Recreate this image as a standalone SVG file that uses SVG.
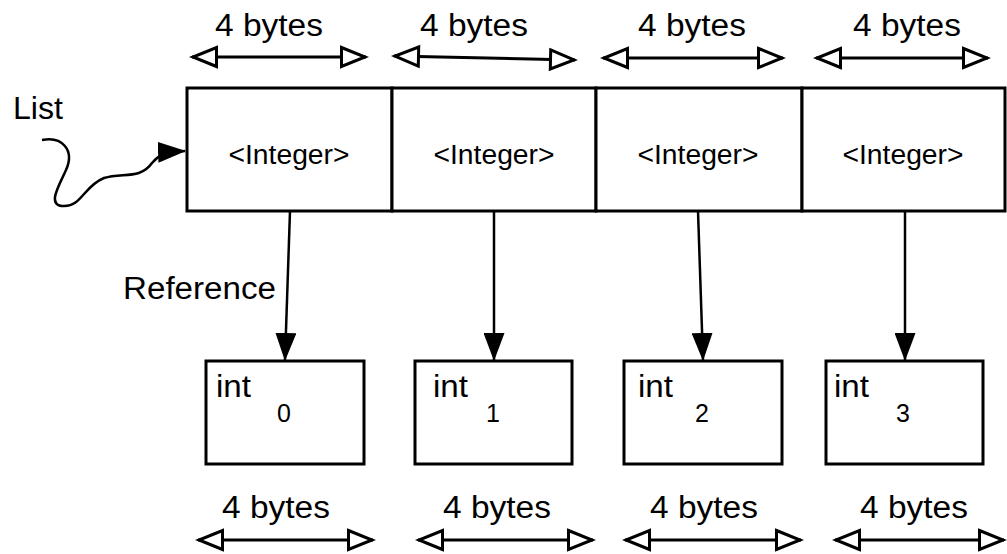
<svg xmlns="http://www.w3.org/2000/svg" width="1007" height="554" viewBox="0 0 1007 554">
  <style>
    .box { fill: #ffffff; stroke: #000000; stroke-width: 3; }
    .lbl { font-family: "Liberation Sans", Arial, Helvetica, sans-serif; font-size: 31px; fill: #000000; }
    .cell { font-family: "Liberation Sans", Arial, Helvetica, sans-serif; font-size: 27px; fill: #000000; text-anchor: middle; }
    .idx { font-family: "Liberation Sans", Arial, Helvetica, sans-serif; font-size: 25px; fill: #000000; text-anchor: middle; }
    .ref { fill: none; stroke: #000000; stroke-width: 2.5; marker-end: url(#solid); }
    .span { fill: none; stroke: #000000; stroke-width: 3; marker-start: url(#open); marker-end: url(#open); }
  </style>
  <defs>
    <marker id="solid" markerUnits="userSpaceOnUse" viewBox="0 0 28 21" refX="27" refY="10.5" markerWidth="28" markerHeight="21" orient="auto">
      <path d="M0,0 L28,10.5 L0,21 Z" fill="#000000"/>
    </marker>
    <marker id="open" markerUnits="userSpaceOnUse" viewBox="0 0 28 22" refX="26" refY="11" markerWidth="28" markerHeight="22" orient="auto-start-reverse" overflow="visible">
      <path d="M1.5,1.5 L25,11 L1.5,20.5 Z" fill="#ffffff" stroke="#000000" stroke-width="3" stroke-linejoin="miter"/>
    </marker>
  </defs>

  <rect width="1007" height="554" fill="#ffffff"/>

  <!-- list label and its pointer -->
  <g id="list-label">
    <text class="lbl" x="13" y="119" textLength="50" lengthAdjust="spacingAndGlyphs">List</text>
  </g>

  <!-- list cells -->
  <g id="cell-0">
    <rect class="box" x="187" y="88" width="205" height="123"/>
    <text class="cell" x="289" y="164" textLength="121" lengthAdjust="spacingAndGlyphs">&lt;Integer&gt;</text>
  </g>
  <g id="cell-1">
    <rect class="box" x="392" y="88" width="204" height="123"/>
    <text class="cell" x="494" y="164" textLength="121" lengthAdjust="spacingAndGlyphs">&lt;Integer&gt;</text>
  </g>
  <g id="cell-2">
    <rect class="box" x="596" y="88" width="206" height="123"/>
    <text class="cell" x="698" y="164" textLength="121" lengthAdjust="spacingAndGlyphs">&lt;Integer&gt;</text>
  </g>
  <g id="cell-3">
    <rect class="box" x="802" y="88" width="203" height="123"/>
    <text class="cell" x="903" y="164" textLength="121" lengthAdjust="spacingAndGlyphs">&lt;Integer&gt;</text>
  </g>

  <!-- boxed int values -->
  <g id="int-0">
    <rect class="box" x="206" y="361" width="158" height="103"/>
    <text class="lbl" x="216" y="397" textLength="35" lengthAdjust="spacingAndGlyphs">int</text>
    <text class="idx" x="284" y="422">0</text>
  </g>
  <g id="int-1">
    <rect class="box" x="415" y="361" width="157" height="103"/>
    <text class="lbl" x="433" y="397" textLength="35" lengthAdjust="spacingAndGlyphs">int</text>
    <text class="idx" x="493" y="422">1</text>
  </g>
  <g id="int-2">
    <rect class="box" x="624" y="361" width="158" height="103"/>
    <text class="lbl" x="638" y="397" textLength="35" lengthAdjust="spacingAndGlyphs">int</text>
    <text class="idx" x="702" y="422">2</text>
  </g>
  <g id="int-3">
    <rect class="box" x="826" y="361" width="157" height="103"/>
    <text class="lbl" x="834" y="397" textLength="35" lengthAdjust="spacingAndGlyphs">int</text>
    <text class="idx" x="903" y="422">3</text>
  </g>

  <!-- size annotations -->
  <g id="size-top">
    <text class="lbl" x="215" y="36" textLength="108" lengthAdjust="spacingAndGlyphs">4 bytes</text>
    <text class="lbl" x="420" y="36" textLength="108" lengthAdjust="spacingAndGlyphs">4 bytes</text>
    <text class="lbl" x="638" y="36" textLength="108" lengthAdjust="spacingAndGlyphs">4 bytes</text>
    <text class="lbl" x="853" y="36" textLength="108" lengthAdjust="spacingAndGlyphs">4 bytes</text>
  </g>
  <g id="size-bottom">
    <text class="lbl" x="222" y="518" textLength="108" lengthAdjust="spacingAndGlyphs">4 bytes</text>
    <text class="lbl" x="443" y="518" textLength="108" lengthAdjust="spacingAndGlyphs">4 bytes</text>
    <text class="lbl" x="650" y="518" textLength="108" lengthAdjust="spacingAndGlyphs">4 bytes</text>
    <text class="lbl" x="860" y="518" textLength="108" lengthAdjust="spacingAndGlyphs">4 bytes</text>
  </g>

  <g id="reference-label">
    <text class="lbl" x="123" y="299" textLength="153" lengthAdjust="spacingAndGlyphs">Reference</text>
  </g>

  <!-- connectors -->
  <g id="connectors">
    <path class="ref" d="M42,140 C62,136 75,150 66,170 C59,186 46,206 64,206 C82,206 84,186 104,178 C122,172 140,180 152,163 C158,156 163,152 185,151"/>
    <line class="ref" x1="290" y1="211" x2="285" y2="360"/>
    <line class="ref" x1="494" y1="211" x2="494" y2="360"/>
    <line class="ref" x1="698" y1="211" x2="703" y2="360"/>
    <line class="ref" x1="905" y1="211" x2="905" y2="360"/>

    <line class="span" x1="192" y1="57" x2="366" y2="57"/>
    <line class="span" x1="394" y1="56" x2="575" y2="60"/>
    <line class="span" x1="603" y1="58" x2="783" y2="58"/>
    <line class="span" x1="816" y1="58" x2="988" y2="58"/>

    <line class="span" x1="198" y1="540" x2="373" y2="540"/>
    <line class="span" x1="418" y1="540" x2="593" y2="540"/>
    <line class="span" x1="625" y1="540" x2="801" y2="540"/>
    <line class="span" x1="835" y1="540" x2="1004" y2="540"/>
  </g>
</svg>
